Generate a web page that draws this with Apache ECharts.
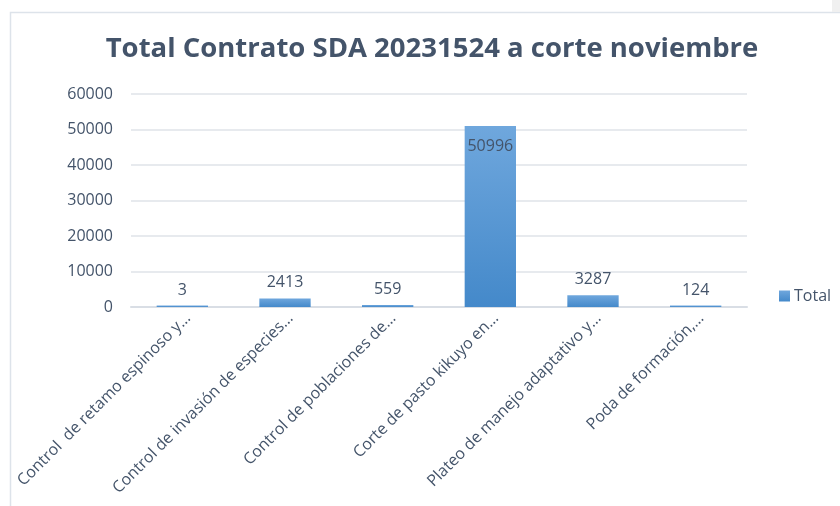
<!DOCTYPE html>
<html>
<head>
<meta charset="utf-8">
<script src="https://cdn.jsdelivr.net/npm/echarts@6/dist/echarts.min.js"></script>
<style>
  html, body { margin: 0; padding: 0; background: #ffffff; }
  #chart { width: 840px; height: 506px; }
</style>
</head>
<body>
<div id="chart"></div>
<script>
// Activity names as shown on the axis (long names are cut with an ellipsis)
const categories = [
  'Control  de retamo espinoso y…',
  'Control de invasión de especies…',
  'Control de poblaciones de…',
  'Corte de pasto kikuyo en…',
  'Plateo de manejo adaptativo y…',
  'Poda de formación,…'
];
// Total per activity
const totals = [3, 2413, 559, 50996, 3287, 124];
const seriesName = 'Total';
const titleText = 'Total Contrato SDA 20231524 a corte noviembre';

const textColor = '#44546a';
const fontFamily = '"Open Sans", "Noto Sans", sans-serif';

const chart = echarts.init(document.getElementById('chart'), null, { renderer: 'canvas' });

const barData = totals.map(function (v) {
  const item = { value: v };
  // the tall bar carries its label inside, near its top
  if (v > 40000) {
    item.label = { position: 'insideTop', distance: 12 };
  }
  return item;
});

chart.setOption({
  backgroundColor: '#ffffff',
  animation: false,
  textStyle: { fontFamily: fontFamily },
  title: {
    text: titleText,
    left: 427,
    top: 30,
    textAlign: 'center',
    textStyle: {
      color: textColor,
      fontSize: 27.5,
      fontWeight: 'bold',
      fontFamily: fontFamily
    }
  },
  legend: {
    data: [seriesName],
    left: 779,
    top: 288,
    padding: 0,
    icon: 'rect',
    itemWidth: 11,
    itemHeight: 11,
    itemGap: 4,
    textStyle: { color: textColor, fontSize: 16, fontFamily: fontFamily, padding: [0, 0, 0, -1] }
  },
  grid: {
    left: 131,
    right: 93,
    top: 94,
    bottom: 199,
    containLabel: false
  },
  xAxis: {
    type: 'category',
    data: categories,
    axisLine: { show: true, lineStyle: { color: '#d9dee5', width: 2 } },
    axisTick: { show: false },
    axisLabel: {
      rotate: 45,
      interval: 0,
      margin: 3,
      verticalAlign: 'top',
      color: textColor,
      fontSize: 16,
      fontFamily: fontFamily
    }
  },
  yAxis: {
    type: 'value',
    min: 0,
    max: 60000,
    interval: 10000,
    axisLine: { show: false },
    axisTick: { show: false },
    splitLine: { lineStyle: { color: '#dfe3e9', width: 1.5 } },
    axisLabel: {
      margin: 18,
      color: textColor,
      fontSize: 16,
      fontFamily: fontFamily,
      formatter: function (v) { return String(v); }
    }
  },
  series: [{
    name: seriesName,
    type: 'bar',
    data: barData,
    barWidth: '50%',
    barMinHeight: 1.5,
    itemStyle: {
      color: new echarts.graphic.LinearGradient(0, 0, 0, 1, [
        { offset: 0, color: '#6fa7dd' },
        { offset: 1, color: '#4489ca' }
      ])
    },
    label: {
      show: true,
      position: 'top',
      distance: 7.5,
      color: textColor,
      fontSize: 16,
      fontFamily: fontFamily
    }
  }],
  graphic: [
    {
      type: 'rect',
      silent: true,
      shape: { x: 10.5, y: 12.5, width: 840, height: 500 },
      style: { fill: null, stroke: '#dde3ea', lineWidth: 1.5 }
    },
    {
      type: 'rect',
      silent: true,
      shape: { x: 832, y: 0, width: 8, height: 12 },
      style: { fill: '#f0f0f0' }
    }
  ]
});
</script>
</body>
</html>
